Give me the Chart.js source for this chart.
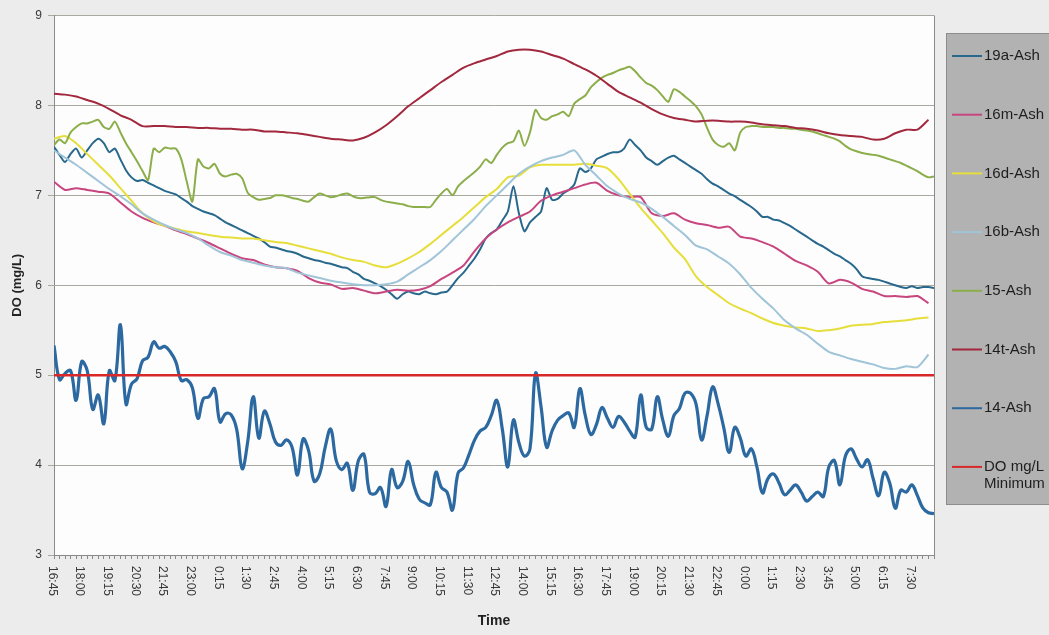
<!DOCTYPE html>
<html>
<head>
<meta charset="utf-8">
<title>DO (mg/L)</title>
<script src="https://cdn.jsdelivr.net/npm/chart.js@4.4.1/dist/chart.umd.min.js"></script>
<style>
  html, body { margin: 0; padding: 0; background: #ececec; }
  canvas { display: block; }
</style>
</head>
<body>
<canvas id="doChart" width="1049" height="635"></canvas>
<script>
// time labels, one every 5th reading (readings are 15 min apart)
var timeTicks = ['16:45', '18:00', '19:15', '20:30', '21:45', '23:00', '0:15', '1:30',
  '2:45', '4:00', '5:15', '6:30', '7:45', '9:00', '10:15', '11:30', '12:45', '14:00',
  '15:15', '16:30', '17:45', '19:00', '20:15', '21:30', '22:45', '0:00', '1:15', '2:30',
  '3:45', '5:00', '6:15', '7:30'];
var readingsPerTick = 5;
var lastReading = 159;
var doMinimum = 5;

// every 15 min
var ash19a = [
  7.54, 7.45, 7.37, 7.46, 7.52, 7.42, 7.50, 7.58, 7.63, 7.58,
  7.48, 7.52, 7.40, 7.28, 7.20, 7.16, 7.17, 7.14, 7.11, 7.08,
  7.05, 7.03, 7.01, 6.97, 6.93, 6.88, 6.85, 6.82, 6.80, 6.78,
  6.74, 6.70, 6.67, 6.64, 6.61, 6.58, 6.55, 6.52, 6.48, 6.43,
  6.42, 6.40, 6.38, 6.37, 6.35, 6.32, 6.30, 6.28, 6.27, 6.25,
  6.24, 6.22, 6.20, 6.19, 6.15, 6.12, 6.07, 6.05, 6.02, 5.99,
  5.95, 5.90, 5.85, 5.90, 5.93, 5.91, 5.90, 5.93, 5.91, 5.90,
  5.92, 5.93, 6.00, 6.08, 6.14, 6.22, 6.30, 6.40, 6.52, 6.58,
  6.62, 6.72, 6.82, 7.10, 6.80, 6.60, 6.70, 6.76, 6.82, 7.08,
  6.95, 6.96, 7.02, 7.06, 7.12, 7.30, 7.26, 7.30, 7.40, 7.43,
  7.46, 7.48, 7.48, 7.52, 7.62, 7.56, 7.50, 7.42, 7.38, 7.34,
  7.38, 7.42, 7.44, 7.40, 7.36, 7.32, 7.28, 7.24, 7.18, 7.13,
  7.10, 7.06, 7.02, 6.99, 6.95, 6.91, 6.87, 6.82, 6.76, 6.76,
  6.73, 6.72, 6.69, 6.66, 6.62, 6.58, 6.54, 6.50, 6.46, 6.43,
  6.39, 6.35, 6.32, 6.28, 6.24, 6.18, 6.10, 6.08, 6.07, 6.06,
  6.04, 6.02, 6.00, 5.98, 5.97, 5.99, 5.97, 5.98, 5.98, 5.97
];

// every 30 min
var ash16m = [
  7.15, 7.06, 7.08, 7.06, 7.04, 7.02, 6.92, 6.82, 6.75, 6.70,
  6.66, 6.61, 6.57, 6.52, 6.47, 6.41, 6.35, 6.30, 6.28, 6.23,
  6.20, 6.19, 6.16, 6.08, 6.03, 6.01, 5.96, 5.97, 5.94, 5.91,
  5.93, 5.95, 5.94, 5.95, 5.99, 6.07, 6.14, 6.22, 6.38, 6.52,
  6.62, 6.70, 6.76, 6.82, 6.94, 7.00, 7.04, 7.08, 7.12, 7.14,
  7.05, 7.00, 6.98, 6.98, 6.80, 6.77, 6.80, 6.73, 6.69, 6.67,
  6.64, 6.65, 6.54, 6.52, 6.48, 6.43, 6.35, 6.27, 6.22, 6.15,
  6.02, 6.06, 6.03, 5.96, 5.93, 5.88, 5.88, 5.87, 5.88, 5.80
];

// every 30 min
var ash16d = [
  7.63, 7.66, 7.58, 7.46, 7.34, 7.22, 7.08, 6.94, 6.80, 6.71,
  6.66, 6.63, 6.60, 6.58, 6.56, 6.54, 6.53, 6.52, 6.52, 6.50,
  6.48, 6.47, 6.44, 6.41, 6.38, 6.35, 6.31, 6.28, 6.26, 6.22,
  6.20, 6.24, 6.30, 6.37, 6.46, 6.56, 6.66, 6.76, 6.87, 6.98,
  7.07, 7.20, 7.22, 7.31, 7.34, 7.34, 7.34, 7.34, 7.35, 7.33,
  7.30, 7.18, 7.02, 6.86, 6.72, 6.58, 6.42, 6.29, 6.10, 5.98,
  5.89, 5.80, 5.74, 5.69, 5.63, 5.58, 5.55, 5.53, 5.52, 5.49,
  5.50, 5.52, 5.55, 5.56, 5.57, 5.59, 5.60, 5.61, 5.63, 5.64
];

// every 30 min
var ash16b = [
  7.50, 7.42, 7.34, 7.25, 7.16, 7.07, 6.99, 6.90, 6.80, 6.73,
  6.67, 6.62, 6.58, 6.52, 6.44, 6.37, 6.33, 6.28, 6.25, 6.22,
  6.20, 6.19, 6.14, 6.11, 6.08, 6.05, 6.03, 6.01, 6.00, 6.00,
  6.01, 6.04, 6.12, 6.20, 6.28, 6.38, 6.50, 6.62, 6.74, 6.88,
  7.00, 7.12, 7.24, 7.32, 7.38, 7.42, 7.45, 7.50, 7.34, 7.22,
  7.10, 7.02, 6.96, 6.92, 6.85, 6.76, 6.66, 6.56, 6.44, 6.40,
  6.32, 6.24, 6.12, 5.97, 5.85, 5.74, 5.61, 5.52, 5.45, 5.35,
  5.26, 5.22, 5.18, 5.15, 5.12, 5.08, 5.07, 5.10, 5.09, 5.23
];

// every 15 min
var ash15 = [
  7.56, 7.62, 7.58, 7.70, 7.76, 7.80, 7.80, 7.82, 7.84, 7.76,
  7.74, 7.82, 7.70, 7.58, 7.48, 7.38, 7.27, 7.17, 7.52, 7.48,
  7.53, 7.52, 7.52, 7.40, 7.15, 6.93, 7.40, 7.32, 7.30, 7.35,
  7.24, 7.21, 7.23, 7.24, 7.19, 7.03, 6.98, 6.95, 6.96, 6.97,
  7.00, 7.00, 6.99, 6.97, 6.96, 6.94, 6.93, 6.98, 7.02, 7.00,
  6.98, 6.99, 7.01, 7.02, 6.99, 6.97, 6.97, 6.98, 6.98, 6.95,
  6.93, 6.92, 6.91, 6.90, 6.88, 6.87, 6.87, 6.87, 6.87, 6.95,
  7.02, 7.07, 7.00, 7.10, 7.16, 7.21, 7.26, 7.32, 7.40, 7.36,
  7.45, 7.53, 7.58, 7.60, 7.72, 7.55, 7.70, 7.95, 7.86, 7.84,
  7.88, 7.90, 7.93, 7.88, 8.02, 8.07, 8.11, 8.20, 8.26, 8.31,
  8.34, 8.36, 8.39, 8.41, 8.43, 8.38, 8.31, 8.25, 8.22, 8.17,
  8.10, 8.04, 8.18, 8.15, 8.10, 8.05, 7.99, 7.90, 7.75, 7.62,
  7.56, 7.54, 7.58, 7.50, 7.70, 7.76, 7.77, 7.77, 7.76, 7.76,
  7.76, 7.75, 7.75, 7.74, 7.74, 7.73, 7.72, 7.71, 7.69, 7.67,
  7.65, 7.63, 7.60, 7.55, 7.51, 7.49, 7.47, 7.46, 7.45, 7.44,
  7.42, 7.40, 7.38, 7.36, 7.33, 7.30, 7.27, 7.23, 7.20, 7.21
];

// every 30 min
var ash14t = [
  8.13, 8.12, 8.10, 8.06, 8.02, 7.96, 7.89, 7.84, 7.77, 7.77,
  7.77, 7.76, 7.76, 7.75, 7.75, 7.74, 7.74, 7.73, 7.73, 7.71,
  7.71, 7.70, 7.69, 7.67, 7.65, 7.63, 7.62, 7.61, 7.64, 7.70,
  7.78, 7.88, 7.99, 8.08, 8.17, 8.26, 8.34, 8.42, 8.47, 8.51,
  8.55, 8.60, 8.62, 8.62, 8.60, 8.56, 8.52, 8.46, 8.40, 8.33,
  8.24, 8.15, 8.09, 8.03, 7.96, 7.90, 7.86, 7.84, 7.82, 7.83,
  7.83, 7.82, 7.82, 7.81, 7.79, 7.78, 7.77, 7.75, 7.74, 7.72,
  7.69, 7.67, 7.66, 7.65, 7.62, 7.63, 7.69, 7.73, 7.73, 7.84
];

// every 15 min
var ash14 = [
  5.33, 4.95, 5.02, 5.05, 4.72, 5.15, 5.05, 4.62, 4.78, 4.46,
  5.05, 4.94, 5.56, 4.68, 4.90, 4.96, 5.16, 5.20, 5.37, 5.30,
  5.32, 5.26, 5.15, 4.94, 4.95, 4.86, 4.52, 4.74, 4.76, 4.85,
  4.48, 4.57, 4.56, 4.40, 3.96, 4.26, 4.76, 4.30, 4.60, 4.46,
  4.26, 4.22, 4.28, 4.20, 3.89, 4.29, 4.16, 3.82, 3.90, 4.20,
  4.40, 4.05, 3.95, 4.02, 3.72, 4.05, 4.12, 3.70, 3.68, 3.75,
  3.54, 3.95, 3.75, 3.82, 4.04, 3.78, 3.62, 3.58, 3.56, 3.92,
  3.75, 3.70, 3.50, 3.91, 3.97, 4.12, 4.28, 4.38, 4.42, 4.55,
  4.72, 4.40, 3.98, 4.50, 4.25, 4.10, 4.18, 5.02, 4.65, 4.20,
  4.38, 4.50, 4.55, 4.58, 4.42, 4.85, 4.55, 4.34, 4.45, 4.64,
  4.52, 4.42, 4.54, 4.48, 4.38, 4.31, 4.78, 4.42, 4.40, 4.76,
  4.50, 4.32, 4.55, 4.63, 4.80, 4.80, 4.68, 4.28, 4.55, 4.87,
  4.68, 4.42, 4.14, 4.42, 4.30, 4.10, 4.18, 3.98, 3.69, 3.85,
  3.90, 3.80, 3.67, 3.72, 3.78, 3.70, 3.60, 3.65, 3.70, 3.65,
  3.98, 4.05, 3.78, 4.10, 4.18, 4.07, 3.98, 4.06, 3.85, 3.66,
  3.92, 3.80, 3.52, 3.72, 3.70, 3.78, 3.66, 3.52, 3.47, 3.46
];

function points(values, every) {
  return values.map(function (v, k) { return { x: k * every, y: v }; });
}

Chart.defaults.font.family = 'Arial, "Liberation Sans", sans-serif';

var paper = {
  id: 'paper',
  beforeDraw: function (chart) {
    var ctx = chart.ctx, a = chart.chartArea;
    ctx.save();
    ctx.fillStyle = '#ececec';
    ctx.fillRect(0, 0, chart.width, chart.height);
    ctx.fillStyle = '#fdfdfd';
    ctx.fillRect(a.left, a.top, a.right - a.left, a.bottom - a.top);
    ctx.restore();
  },
  afterDraw: function (chart) {
    var ctx = chart.ctx, a = chart.chartArea, xs = chart.scales.x;
    ctx.save();
    // right side of the plot frame
    ctx.strokeStyle = '#8a8a8a';
    ctx.lineWidth = 1;
    ctx.beginPath();
    ctx.moveTo(a.right + 0.5, a.top);
    ctx.lineTo(a.right + 0.5, a.bottom);
    ctx.stroke();

    // time labels, read top to bottom
    ctx.font = '12px Arial, "Liberation Sans", sans-serif';
    ctx.fillStyle = '#3a3a3a';
    ctx.textAlign = 'left';
    ctx.textBaseline = 'middle';
    timeTicks.forEach(function (t, k) {
      var px = xs.getPixelForValue(k * readingsPerTick);
      ctx.save();
      ctx.translate(px - 2, a.bottom + 11);
      ctx.rotate(Math.PI / 2);
      ctx.fillText(t, 0, 0);
      ctx.restore();
    });

    // legend box
    var lx = 946, ly = 33;
    ctx.fillStyle = '#b2b2b2';
    ctx.fillRect(lx, ly, 120, 472);
    ctx.strokeStyle = '#8c8c8c';
    ctx.strokeRect(lx + 0.5, ly + 0.5, 120, 471);
    ctx.font = '15px Arial, "Liberation Sans", sans-serif';
    ctx.fillStyle = '#1e1e1e';
    chart.data.datasets.forEach(function (ds, k) {
      var y = 56 + k * 58.7;
      ctx.strokeStyle = ds.borderColor;
      ctx.lineWidth = 2;
      ctx.beginPath();
      ctx.moveTo(lx + 6, y);
      ctx.lineTo(lx + 36, y);
      ctx.stroke();
      var words = ds.label.split(' '), line = '', row = 0;
      words.forEach(function (w) {
        var test = line ? line + ' ' + w : w;
        if (line && ctx.measureText(test).width > 64) {
          ctx.fillText(line, lx + 38, y + row * 17);
          row++;
          line = w;
        } else {
          line = test;
        }
      });
      ctx.fillText(line, lx + 38, y + row * 17);
    });
    ctx.restore();
  }
};

new Chart(document.getElementById('doChart'), {
  type: 'line',
  data: {
    datasets: [
      { label: '19a-Ash', data: points(ash19a, 1), borderColor: '#27688c', order: 8 },
      { label: '16m-Ash', data: points(ash16m, 2), borderColor: '#c8467f', order: 7 },
      { label: '16d-Ash', data: points(ash16d, 2), borderColor: '#e6de3a', order: 6 },
      { label: '16b-Ash', data: points(ash16b, 2), borderColor: '#a0c4d8', order: 5 },
      { label: '15-Ash', data: points(ash15, 1), borderColor: '#8cae4a', order: 4 },
      { label: '14t-Ash', data: points(ash14t, 2), borderColor: '#a2283e', order: 3 },
      { label: '14-Ash', data: points(ash14, 1), borderColor: '#2c69a0', borderWidth: 3.2, tension: 0.4, order: 2 },
      { label: 'DO mg/L Minimum', data: [{ x: 0, y: doMinimum }, { x: lastReading, y: doMinimum }],
        borderColor: '#d8282a', borderWidth: 2.5, order: 1 }
    ]
  },
  options: {
    responsive: false,
    animation: false,
    layout: { padding: { left: 0, top: 15.5, right: 115, bottom: 0 } },
    elements: {
      point: { radius: 0 },
      line: { tension: 0.25, borderWidth: 2, fill: false }
    },
    plugins: {
      legend: { display: false },
      tooltip: { enabled: false }
    },
    scales: {
      x: {
        type: 'linear',
        min: 0,
        max: lastReading,
        afterBuildTicks: function (scale) {
          var t = [];
          for (var i = 0; i <= lastReading; i++) t.push({ value: i });
          scale.ticks = t;
        },
        afterFit: function (scale) { scale.height = 80; },
        ticks: { display: false },
        grid: { drawOnChartArea: false, drawTicks: true, tickLength: 4, color: '#8a8a8a' },
        border: { color: '#8a8a8a' },
        title: {
          display: true, text: 'Time', color: '#222',
          font: { size: 14, weight: 'bold' }, padding: { top: 0, bottom: 5 }
        }
      },
      y: {
        min: 3,
        max: 9,
        afterFit: function (scale) { scale.width = 54; },
        ticks: { stepSize: 1, color: '#3a3a3a', font: { size: 12 }, padding: 6 },
        grid: { color: '#a9a9a2', tickLength: 6 },
        border: { color: '#8a8a8a' },
        title: {
          display: true, text: 'DO (mg/L)', color: '#222',
          font: { size: 13, weight: 'bold' }, padding: { top: 10, bottom: 0 }
        }
      }
    }
  },
  plugins: [paper]
});
</script>
</body>
</html>
